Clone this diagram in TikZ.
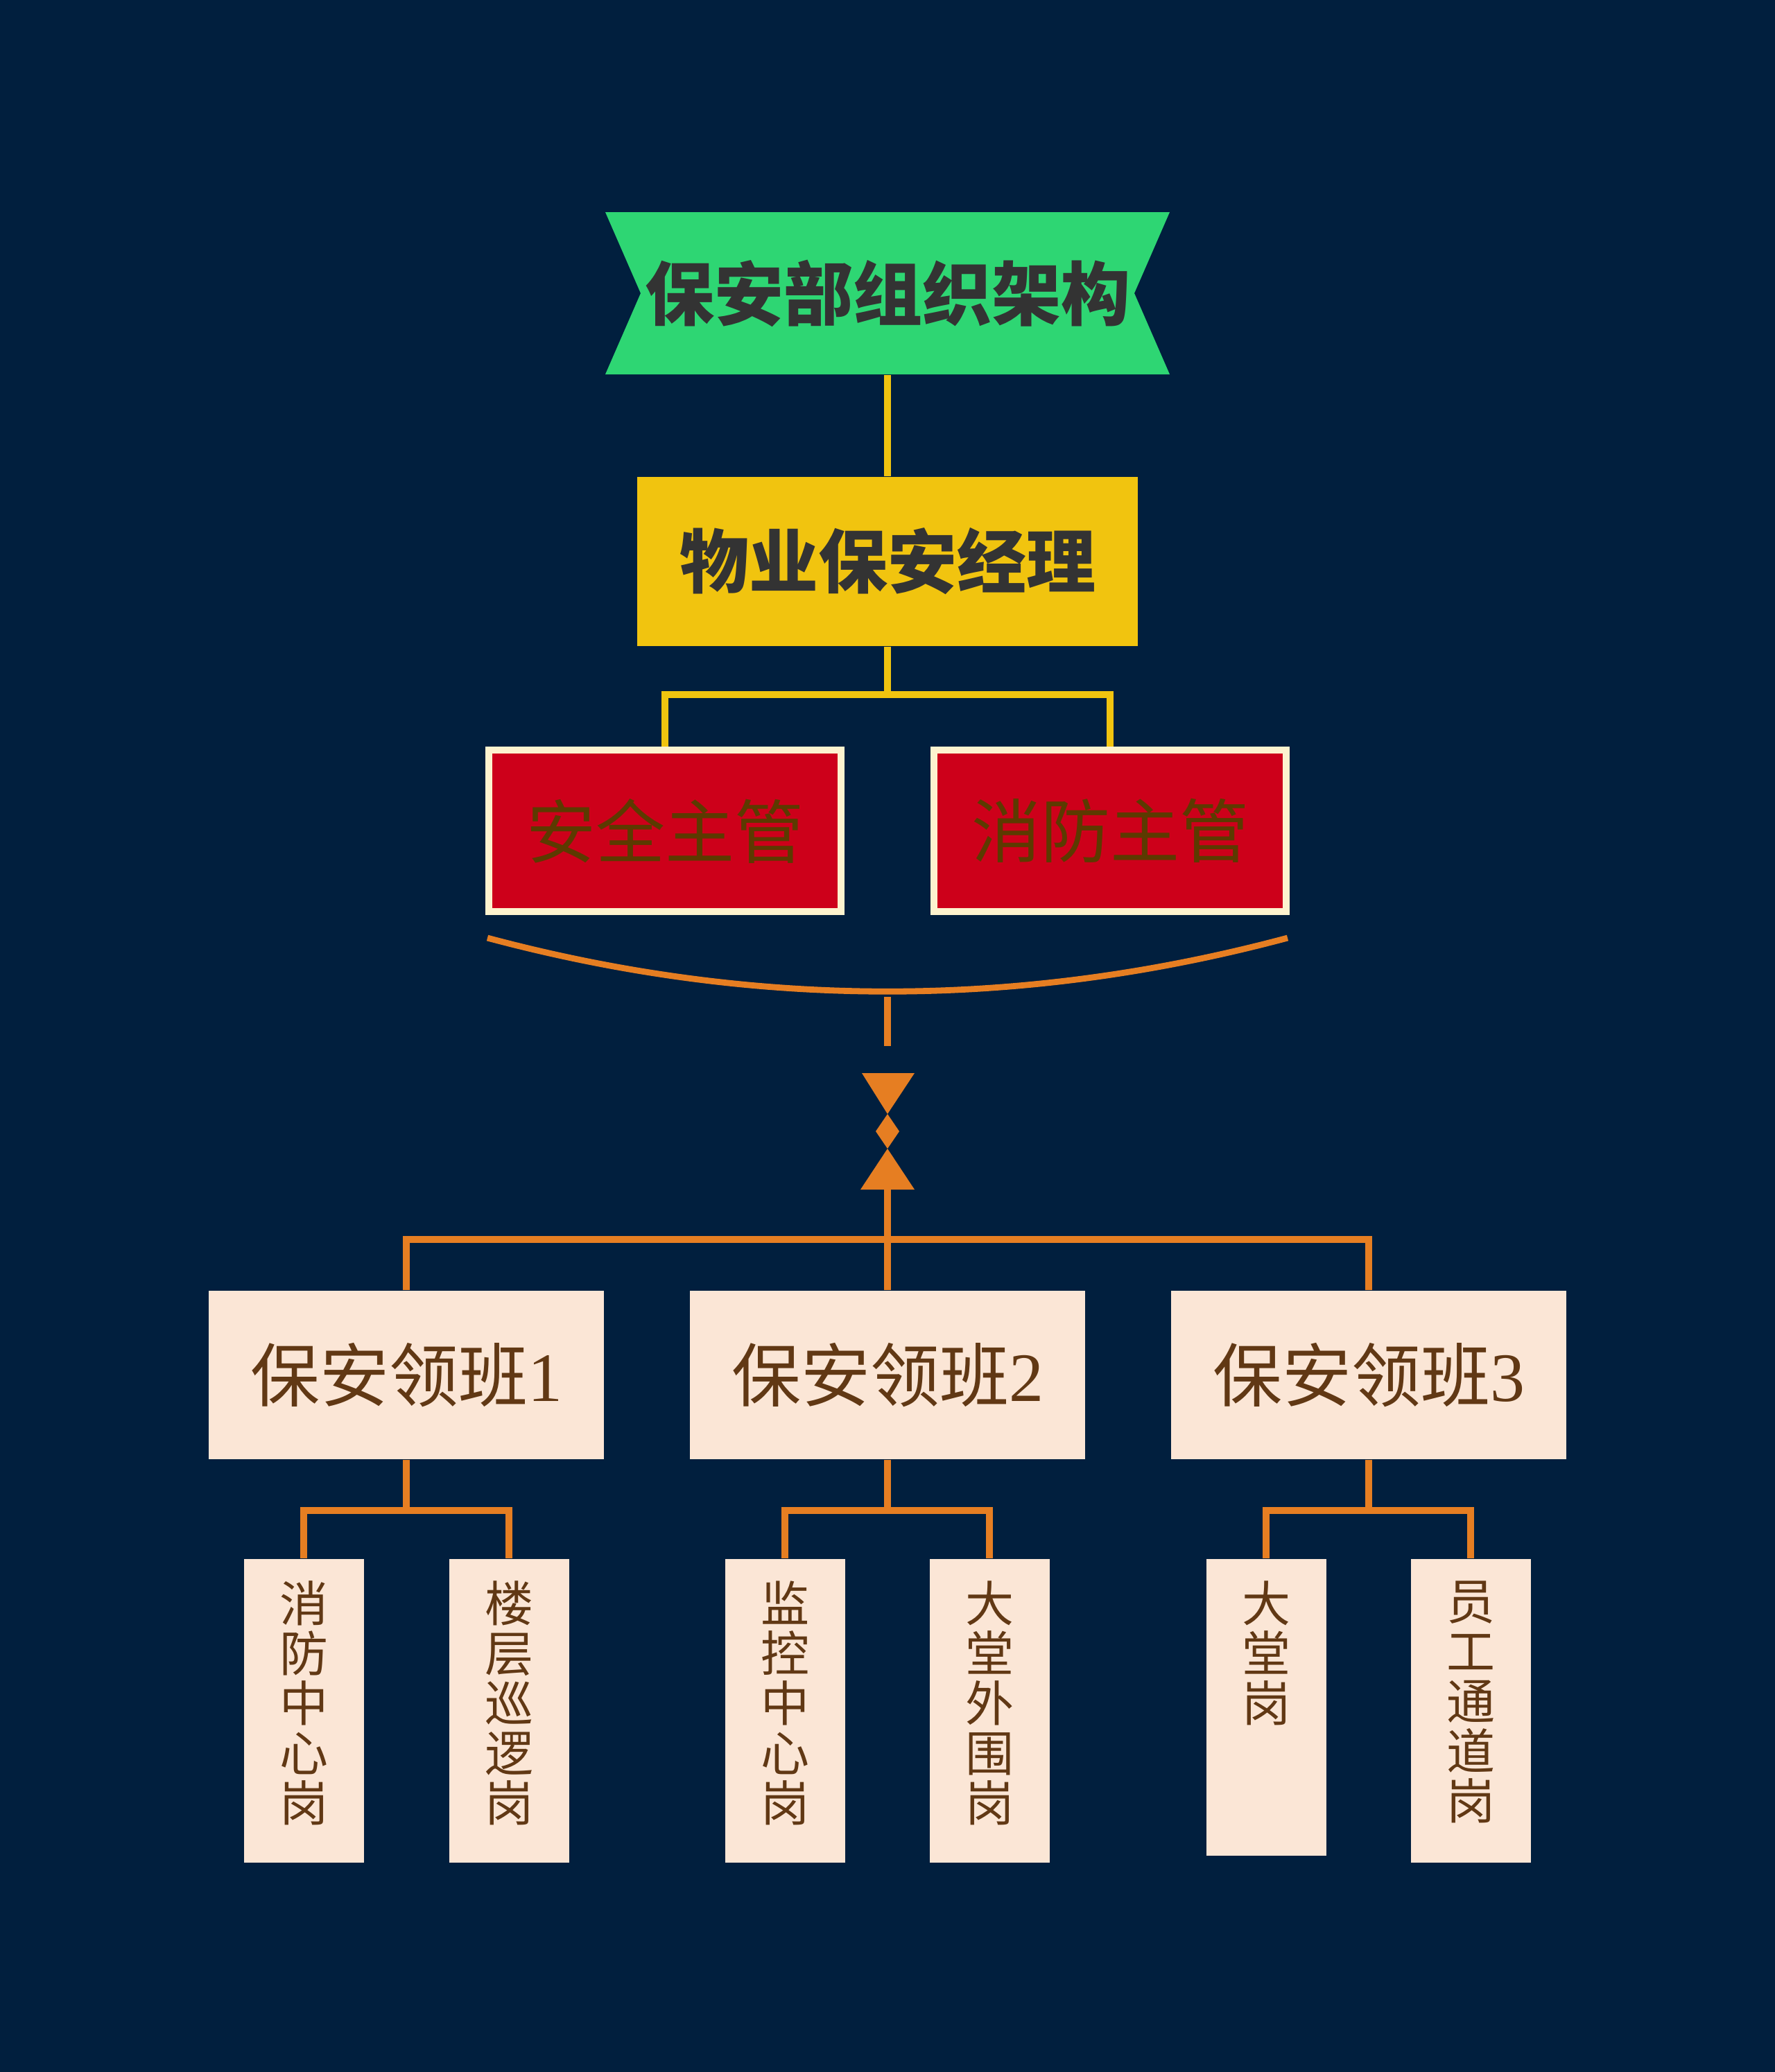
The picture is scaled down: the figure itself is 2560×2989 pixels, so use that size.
\documentclass[tikz,border=0pt]{standalone}
\usepackage{fontspec}
\newfontfamily\cjk{Noto Sans CJK SC}
\newfontfamily\numfont{Liberation Serif}
\usetikzlibrary{positioning}

\definecolor{navy}{RGB}{1,31,62}
\definecolor{emerald}{RGB}{46,214,115}
\definecolor{sunflower}{RGB}{241,196,15}
\definecolor{crimson}{RGB}{205,0,26}
\definecolor{cream}{RGB}{253,243,207}
\definecolor{olive}{RGB}{92,58,0}
\definecolor{carrot}{RGB}{230,126,34}
\definecolor{peach}{RGB}{251,230,214}
\definecolor{umber}{RGB}{97,56,20}
\definecolor{charcoal}{RGB}{51,51,51}

\newcommand{\leafcol}[2]{\parbox[c][#1][t]{24pt}{\centering #2}}

\tikzset{
    headbox/.style={ minimum width=203.5pt, minimum height=58.5pt, inner sep=0pt,
        text=charcoal, font=\cjk\bfseries\fontsize{25}{25}\selectfont },
    mgrbox/.style={ fill=sunflower, minimum width=180.5pt, minimum height=61pt, inner sep=0pt,
        text=charcoal, font=\cjk\bfseries\fontsize{25}{25}\selectfont },
    supbox/.style={ fill=crimson, draw=cream, line width=2.5pt, minimum width=127pt,
        minimum height=58.25pt, inner sep=0pt, text=olive, font=\cjk\fontsize{25}{25}\selectfont },
    teambox/.style={ fill=peach, minimum width=142.5pt, minimum height=60.75pt, inner sep=0pt,
        text=umber, font=\cjk\fontsize{25}{25}\selectfont },
    leafbox/.style={ fill=peach, minimum width=43.25pt, minimum height=109.5pt, inner sep=0pt,
        text=umber, font=\cjk\fontsize{17.5}{18}\selectfont },
    yline/.style={ draw=sunflower, line width=2.5pt },
    oline/.style={ draw=carrot, line width=2.5pt }
}

\begin{document}
\begin{tikzpicture}[ x=0.25pt, y=-0.25pt ]

    % background, also fixes the page size
    \fill[ navy ] (0,0) rectangle (2560,2989);

    % title banner
    \fill[ emerald ] (873,306) -- (1687,306) -- (1636,423) -- (1687,540) -- (873,540) -- (924,423) -- cycle;
    \node[ headbox ] (title) at (1280,423) {保安部组织架构};

    \node[ mgrbox ] (mgr) at (1280,810) {物业保安经理};

    \node[ supbox ] (sup1) at (959,1198.5) {安全主管};
    \node[ supbox ] (sup2) at (1601,1198.5) {消防主管};

    \draw[ yline ] (title.south) -- (mgr.north);
    \draw[ yline ] (mgr.south) -- ++(0,69) -| (sup1.north);
    \draw[ yline ] (mgr.south) -- ++(0,69) -| (sup2.north);

    % brace under the supervisors
    \coordinate (arcL) at (703,1353);
    \coordinate (arcR) at (1857,1353);
    \draw[ oline, line width=2.2pt ] (arcL) .. controls (1088,1456) and (1472,1456) .. (arcR);

    \coordinate (linkTop) at (1280,1438);
    \coordinate (linkEnd) at (1280,1509);
    \draw[ oline ] (linkTop) -- (linkEnd);

    % bow-tie marker
    \fill[ carrot ] (1243,1548) -- (1319,1548) -- (1280,1607) -- cycle;
    \fill[ carrot ] (1280,1607) -- (1297,1632) -- (1280,1657) -- (1263,1632) -- cycle;
    \fill[ carrot ] (1280,1657) -- (1319,1716) -- (1241,1716) -- cycle;
    \coordinate (symBot) at (1280,1716);

    \node[ teambox ] (team1) at (586,1983.5) {保安领班{\numfont 1}};
    \node[ teambox ] (team2) at (1280,1983.5) {保安领班{\numfont 2}};
    \node[ teambox ] (team3) at (1974,1983.5) {保安领班{\numfont 3}};

    \coordinate (hub) at (1280,1788);
    \draw[ oline ] (symBot) -- (team2.north);
    \draw[ oline ] (hub) -| (team1.north);
    \draw[ oline ] (hub) -| (team3.north);

    \node[ leafbox ] (leaf1a) at (438,2468) {\leafcol{93.5pt}{消\\防\\中\\心\\岗}};
    \node[ leafbox ] (leaf1b) at (734,2468) {\leafcol{93.5pt}{楼\\层\\巡\\逻\\岗}};
    \node[ leafbox ] (leaf2a) at (1132,2468) {\leafcol{93.5pt}{监\\控\\中\\心\\岗}};
    \node[ leafbox ] (leaf2b) at (1427,2468) {\leafcol{93.5pt}{大\\堂\\外\\围\\岗}};
    \node[ leafbox, minimum height=107pt ] (leaf3a) at (1826,2463) {\leafcol{91pt}{大\\堂\\岗}};
    \node[ leafbox ] (leaf3b) at (2121,2468) {\leafcol{93.5pt}{员\\工\\通\\道\\岗}};

    \foreach \t in {1,2,3} {
        \draw[ oline ] (team\t.south) -- ++(0,73) -| (leaf\t a.north);
        \draw[ oline ] (team\t.south) -- ++(0,73) -| (leaf\t b.north);
    }

\end{tikzpicture}
\end{document}
